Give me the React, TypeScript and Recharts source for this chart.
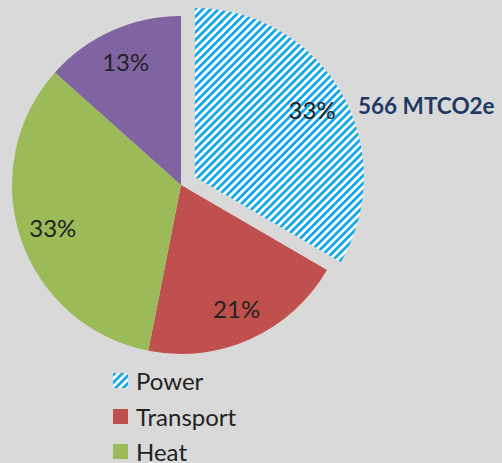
import { PieChart, Pie, Cell, Legend } from "recharts";

const sectors = ["Power", "Transport", "Heat", "Other"];
// slice sizes
const shares = [33.4, 19.7, 33.5, 13.4];
// percentages printed on the slices
const shareLabels = ["33%", "21%", "33%", "13%"];
const colors = ["url(#powerStripes)", "#c0504d", "#9bbb59", "#8064a2"];
const legendNames = ["Power", "Transport", "Heat"];
const powerCallout = "566 MTCO2e";

const data = sectors.map((name, i) => ({ name, value: shares[i], label: shareLabels[i] }));

const RADIAN = Math.PI / 180;
const CX = 181;
const CY = 185;
const R = 169;
const EXPLODE = 16;
const FONT = "Lato, 'Open Sans', sans-serif";

const total = shares.reduce((s, v) => s + v, 0);
const powerSweep = (shares[0] / total) * 360;
const powerMid = 90 - powerSweep / 2;
const powerCx = CX + EXPLODE * Math.cos(powerMid * RADIAN);
const powerCy = CY - EXPLODE * Math.sin(powerMid * RADIAN);

const renderLabel = (skipFirst: boolean) => (props: any) => {
  const { cx, cy, midAngle, outerRadius, index, payload } = props;
  if (skipFirst && index === 0) return null;
  const r = outerRadius * 0.8;
  const x = cx + r * Math.cos(-midAngle * RADIAN);
  const y = cy + r * Math.sin(-midAngle * RADIAN);
  const text = payload?.label ?? props.label ?? shareLabels[index];
  return (
    <text
      x={x}
      y={y}
      textAnchor="middle"
      dominantBaseline="central"
      fontFamily={FONT}
      fontSize={24}
      fill="#222"
    >
      {text}
    </text>
  );
};

const LegendBox = () => (
  <div style={{ fontFamily: FONT, fontSize: 24, color: "#222" }}>
    {legendNames.map((name, i) => (
      <div
        key={name}
        style={{ display: "flex", alignItems: "center", height: 35.5 }}
      >
        <svg width={15} height={15} style={{ marginRight: 8 }}>
          <rect width={15} height={15} fill={colors[i]} />
        </svg>
        <span>{name}</span>
      </div>
    ))}
  </div>
);

export default function App() {
  return (
    <div
      style={{
        position: "fixed",
        left: 0,
        top: 0,
        width: 502,
        height: 463,
        background: "#d9d9d9",
        overflow: "hidden",
      }}
    >
      <PieChart width={502} height={463} margin={{ top: 0, right: 0, bottom: 0, left: 0 }}>
        <defs>
          <pattern
            id="powerStripes"
            patternUnits="userSpaceOnUse"
            width={5.5}
            height={5.5}
            patternTransform="rotate(45)"
          >
            <rect width={5.5} height={5.5} fill="#ffffff" />
            <rect width={2.8} height={5.5} fill="#14a9e6" />
          </pattern>
        </defs>
        <Pie
          data={data}
          dataKey="value"
          nameKey="name"
          cx={CX}
          cy={CY}
          outerRadius={R}
          startAngle={90}
          endAngle={-270}
          stroke="none"
          labelLine={false}
          label={renderLabel(true)}
          isAnimationActive={false}
        >
          {data.map((d, i) => (
            <Cell key={d.name} fill={i === 0 ? "transparent" : colors[i]} />
          ))}
        </Pie>
        <Pie
          data={[data[0]]}
          dataKey="value"
          nameKey="name"
          cx={powerCx}
          cy={powerCy}
          outerRadius={R}
          startAngle={90}
          endAngle={90 - powerSweep}
          stroke="none"
          labelLine={false}
          label={renderLabel(false)}
          isAnimationActive={false}
        >
          <Cell fill={colors[0]} />
        </Pie>
        <text
          x={358}
          y={105}
          dominantBaseline="central"
          fontFamily={FONT}
          fontWeight="bold"
          fontSize={22.5}
          fill="#1f3864"
        >
          {powerCallout}
        </text>
        <Legend
          content={<LegendBox />}
          wrapperStyle={{ left: 113, top: 363, width: "auto" }}
        />
      </PieChart>
    </div>
  );
}
